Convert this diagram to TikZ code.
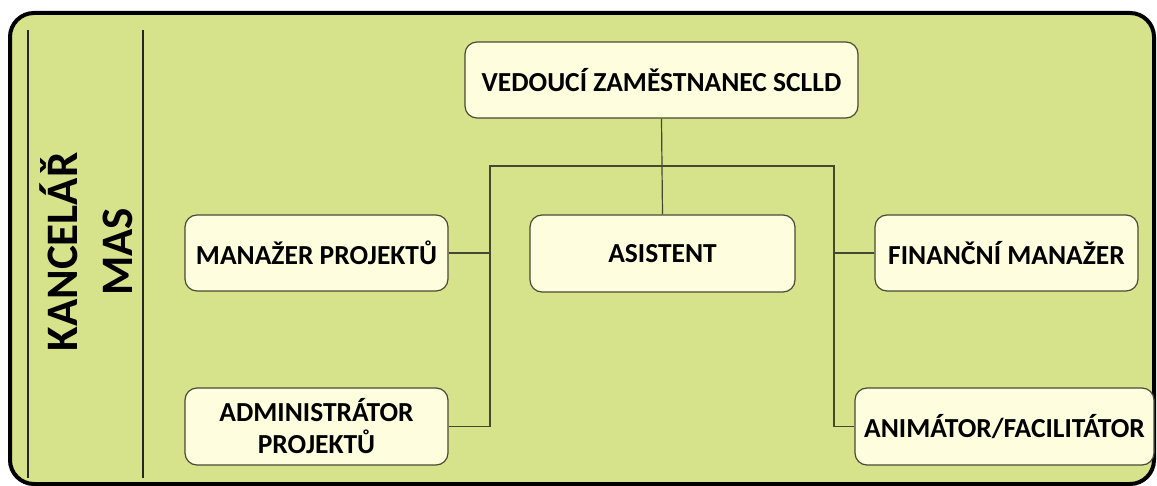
\documentclass[tikz,border=0pt]{standalone}
\usepackage{fontspec}
\setmainfont{Carlito}
\definecolor{bggreen}{RGB}{214,227,139}
\definecolor{cream}{RGB}{254,254,222}
\definecolor{boxline}{RGB}{72,74,52}
\definecolor{conn}{RGB}{70,72,50}
\tikzset{
  orgbox/.style={draw=boxline, fill=cream, line width=1.2pt, rounded corners=12pt,
    minimum width=263pt, minimum height=76pt, inner sep=0pt, align=center,
    font=\fontsize{27.5}{32}\selectfont\bfseries},
  connector/.style={draw=conn, line width=1.2pt},
}
\begin{document}
\begin{tikzpicture}[x=1pt,y=-1pt]
\useasboundingbox (0,0) rectangle (1157,486);
\fill[white] (0,0) rectangle (1157,486);
\draw[line width=4pt, fill=bggreen, rounded corners=24pt] (10,13) rectangle (1154,484);
\draw[line width=2pt, black!85] (28,30) -- (28,478);
\draw[line width=2pt, black!85] (143,30) -- (143,478);
\node[rotate=90, align=center, font=\fontsize{45}{55}\selectfont\bfseries] (kanc) at (86,252) {KANCELÁŘ\\MAS};

\node[orgbox, minimum width=393pt] (ved) at (661.5,80) {VEDOUCÍ ZAMĚSTNANEC SCLLD};
\node[orgbox] (man) at (316.5,253) {MANAŽER PROJEKTŮ};
\node[orgbox, minimum width=265pt, minimum height=77pt] (asi) at (662.5,253.5) {ASISTENT};
\node[orgbox] (fin) at (1006.5,253) {FINANČNÍ MANAŽER};
\node[orgbox, minimum height=77pt] (adm) at (316.5,426.5) {ADMINISTRÁTOR\\PROJEKTŮ};
\node[orgbox, minimum width=299pt, minimum height=77pt] (ani) at (1004.5,426.5) {ANIMÁTOR/FACILITÁTOR};

\coordinate (hL) at (490,166);
\coordinate (hR) at (834,166);
\draw[connector] (ved.south) -- (asi.north);
\draw[connector] (adm.east) -| (hL) -- (hR) |- (ani.west);
\draw[connector] (man.east) -- (man.east -| hL);
\draw[connector] (fin.west) -- (fin.west -| hR);
\end{tikzpicture}
\end{document}
